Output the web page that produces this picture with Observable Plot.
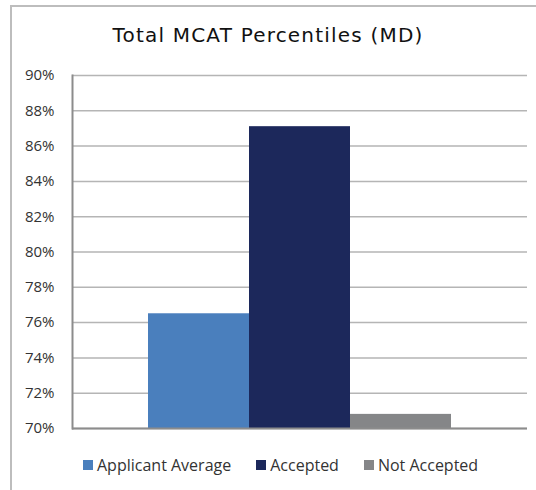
<!DOCTYPE html>
<html>
<head>
<meta charset="utf-8">
<script src="https://cdn.jsdelivr.net/npm/d3@7"></script>
<script src="https://cdn.jsdelivr.net/npm/@observablehq/plot@0.6"></script>
<style>
  html, body { margin: 0; padding: 0; background: #fff; }
  body { width: 536px; height: 490px; position: relative; overflow: hidden; }
  #frame { position: absolute; left: 10px; top: 5px; width: 600px; height: 600px;
           border-left: 2px solid #bdbdbd; border-top: 2px solid #bdbdbd; }
  #title { position: absolute; left: 0; top: 25px; width: 536px; text-align: center; line-height: 1;
           font-family: "DejaVu Sans", sans-serif; font-size: 20px; letter-spacing: 1.2px; color: #111; }
  #chart { position: absolute; left: 0; top: 60px; }
  #legend { position: absolute; left: 83px; top: 448px; }
  .lg-swatch { margin-right: 25px !important; }
  .lg-swatch > svg { margin-right: 4px !important; }
</style>
</head>
<body>
<div id="frame"></div>
<div id="title">Total MCAT Percentiles (MD)</div>
<div id="chart"></div>
<div id="legend"></div>
<script>
const series = ["Applicant Average", "Accepted", "Not Accepted"];
const values = [76.5, 87.1, 70.8];
const colors = ["#4a7fbd", "#1c285b", "#858688"];
const yMin = 70;
const yMax = 90;
const yTicks = [70, 72, 74, 76, 78, 80, 82, 84, 86, 88, 90];

const data = series.map((s, i) => ({series: s, value: values[i]}));

const chart = Plot.plot({
  width: 536,
  height: 378,
  marginTop: 15,
  marginBottom: 10,
  marginLeft: 72,
  marginRight: 9,
  style: {background: "transparent"},
  x: {domain: series, paddingInner: 0, paddingOuter: 0.74, axis: null},
  y: {domain: [yMin, yMax]},
  color: {domain: series, range: colors},
  marks: [
    Plot.gridY(yTicks, {stroke: "#b5b5b5", strokeOpacity: 1, strokeWidth: 1.5}),
    Plot.axisY(yTicks, {tickFormat: d => d + "%", tickSize: 0, tickPadding: 18, label: null,
      fontSize: 15, fontFamily: "Open Sans, sans-serif", fill: "#333"}),
    Plot.barY(data, {x: "series", y1: yMin, y2: "value", fill: "series"}),
    Plot.ruleY([yMin], {stroke: "#8c8c8c", strokeWidth: 2}),
    Plot.frame({anchor: "left", stroke: "#8c8c8c", strokeWidth: 2})
  ]
});
document.getElementById("chart").appendChild(chart);

const legend = Plot.legend({
  color: {type: "ordinal", domain: series, range: colors},
  legend: "swatches",
  swatchSize: 10,
  className: "lg",
  style: {fontSize: "16px", fontFamily: "Open Sans, sans-serif", color: "#333", margin: "0"}
});
document.getElementById("legend").appendChild(legend);
</script>
</body>
</html>
